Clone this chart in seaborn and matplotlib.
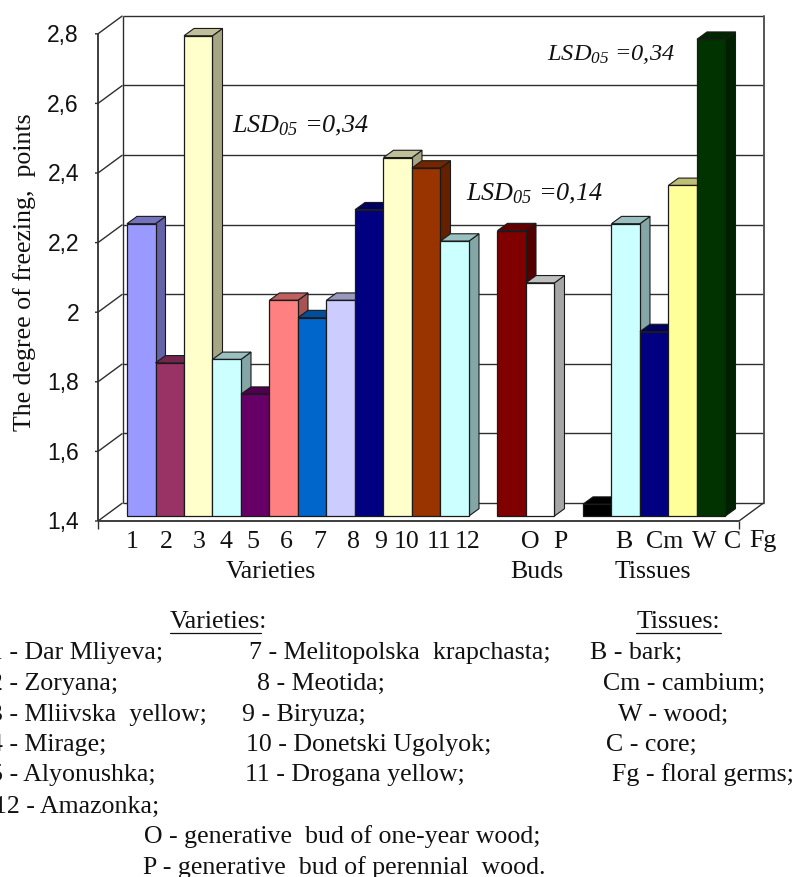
import numpy as np
import pandas as pd
import matplotlib
matplotlib.use('Agg')
import matplotlib.pyplot as plt
import matplotlib.colors as mcolors
from matplotlib.lines import Line2D
from matplotlib.patches import Polygon
from matplotlib.transforms import Affine2D, IdentityTransform
import seaborn as sns

# values
varieties = ['1', '2', '3', '4', '5', '6', '7', '8', '9', '10', '11', '12']
variety_values = [2.24, 1.84, 2.78, 1.85, 1.75, 2.02, 1.97, 2.02, 2.28, 2.43, 2.40, 2.19]
variety_colors = ['#9999FF', '#993366', '#FFFFCC', '#CCFFFF', '#660066', '#FF8080',
                  '#0066CC', '#CCCCFF', '#000080', '#FFFFCC', '#993300', '#CCFFFF']

buds = ['O', 'P']
bud_values = [2.22, 2.07]
bud_colors = ['#800000', '#FFFFFF']

tissues = ['T1', 'T2', 'T3', 'T4', 'T5']
tissue_values = [1.434, 2.24, 1.93, 2.35, 2.77]
tissue_colors = ['#000000', '#CCFFFF', '#000080', '#FFFF99', '#003300']

y_ticks = [1.4, 1.6, 1.8, 2.0, 2.2, 2.4, 2.6, 2.8]
y_tick_labels = ['1,4', '1,6', '1,8', '2', '2,2', '2,4', '2,6', '2,8']

# x labels of the picture do not sit under the bars, so they get their own spots
x_labels = ['1', '2', '3', '4', '5', '6', '7', '8', '9', '10', '11', '12',
            'O', 'P', 'B', 'Cm', 'W', 'C', 'Fg']
x_label_px = [132, 166, 199, 226, 253, 286, 320, 354, 381, 407, 439, 468,
              530, 560, 624, 665, 704, 733, 763]

WIDTH, HEIGHT = 798, 877
SERIF = 'Liberation Serif'

sns.set_theme(style='white')
plt.rcParams['font.family'] = [SERIF, 'DejaVu Serif']
plt.rcParams['mathtext.fontset'] = 'custom'
plt.rcParams['mathtext.it'] = 'Liberation Serif:italic'
plt.rcParams['mathtext.rm'] = 'Liberation Serif:italic'

fig = plt.figure(figsize=(WIDTH / 100, HEIGHT / 100), dpi=100, facecolor='white')


def px(x, y):
    return x / WIDTH, 1 - y / HEIGHT


def put(x, y, s, **kw):
    kw.setdefault('fontsize', 18.6)
    kw.setdefault('color', '#111111')
    kw.setdefault('va', 'baseline')
    fig.text(*px(x, y), s, **kw)


# axes = plane of the bar fronts
ax = fig.add_axes([105 / WIDTH, 1 - 516 / HEIGHT, 641 / WIDTH, 487.2 / HEIGHT])
ax.patch.set_alpha(0)

slots = varieties + ['gap1'] + buds + ['gap2'] + tissues
values = variety_values + bud_values + tissue_values
names = varieties + buds + tissues
colors = variety_colors + bud_colors + tissue_colors
df = pd.DataFrame({'slot': names, 'value': values})

sns.barplot(data=df, x='slot', y='value', hue='slot', order=slots, hue_order=names,
            palette=dict(zip(names, colors)), saturation=1, width=1, dodge=False,
            legend=False, edgecolor='#1a1a1a', linewidth=0.9, ax=ax)

ax.set_xlim(-1.272, 21.22)
ax.set_ylim(1.4, 2.8)
ax.set_xticks([])
ax.set_yticks([])
ax.set_xlabel('')
ax.set_ylabel('')
for s in ax.spines.values():
    s.set_visible(False)


def shift(dx, dy):
    return ax.transData + Affine2D().translate(dx, dy)


# walls: front plane and back plane are offsets from the bar plane
FRONT = shift(-7, -5)
BACK = shift(17.5, 13)
x_left, x_right = ax.get_xlim()
line_kw = dict(color='#2e2e2e', lw=1.0, clip_on=False, zorder=1, solid_capstyle='butt')

for t in y_ticks:
    front = FRONT.transform((x_left, t))
    back = BACK.transform((x_left, t))
    ax.plot([front[0] - 3, front[0], back[0]], [front[1], front[1], back[1]],
            transform=IdentityTransform(), **line_kw)
    ax.plot([x_left, x_right], [t, t], transform=BACK, **line_kw)
ax.plot([x_left, x_left], [1.4, 2.8], transform=BACK, **line_kw)
ax.plot([x_right, x_right], [1.4, 2.8], transform=BACK, color='#555555', lw=1.4,
        clip_on=False, zorder=1)

floor_kw = dict(line_kw, zorder=2)
ax.plot([x_left, x_left], [1.4, 2.8], transform=FRONT, **dict(floor_kw, lw=1.3))
ax.plot([x_left, x_right], [1.4, 1.4], transform=FRONT, **dict(floor_kw, lw=1.3))
end_front = FRONT.transform((x_right, 1.4))
end_back = BACK.transform((x_right, 1.4))
ax.plot([end_front[0], end_back[0]], [end_front[1], end_back[1]],
        transform=IdentityTransform(), **floor_kw)
for x_end in (x_left, x_right):
    p = FRONT.transform((x_end, 1.4))
    ax.plot([p[0], p[0]], [p[1], p[1] - 8], transform=IdentityTransform(), **floor_kw)

# 3d look: side and top faces grow out of the seaborn bars
DEPTH_X, DEPTH_Y = 10, 7.3
bars = sorted(ax.patches, key=lambda b: b.get_x())
for i, (bar, color) in enumerate(zip(bars, colors)):
    top = bar.get_height()
    bar.set_y(1.4)
    bar.set_height(top - 1.4)
    bar.set_clip_on(False)
    z = 3 + i * 0.1
    bar.set_zorder(z)
    x0, x1 = bar.get_x(), bar.get_x() + bar.get_width()
    (a, b), (c, d), (e, f) = ax.transData.transform([(x0, top), (x1, top), (x1, 1.4)])
    rgb = np.array(mcolors.to_rgb(color))
    side = Polygon([(c, d), (c + DEPTH_X, d + DEPTH_Y), (e + DEPTH_X, f + DEPTH_Y), (e, f)],
                   facecolor=rgb * 0.65, edgecolor='#1a1a1a', lw=0.8,
                   transform=IdentityTransform(), clip_on=False, zorder=z - 0.05)
    cap = Polygon([(a, b), (c, d), (c + DEPTH_X, d + DEPTH_Y), (a + DEPTH_X, b + DEPTH_Y)],
                  facecolor=rgb * 0.75, edgecolor='#1a1a1a', lw=0.8,
                  transform=IdentityTransform(), clip_on=False, zorder=z - 0.05)
    ax.add_patch(side)
    ax.add_patch(cap)

# y tick labels and x labels
for t, lab in zip(y_ticks, y_tick_labels):
    xp, yp = FRONT.transform((x_left, t))
    fig.text(79 / WIDTH, (yp - 2) / HEIGHT, lab, family='Liberation Sans', fontsize=16.5,
             color='#111111', ha='right', va='center')
for x, lab in zip(x_label_px, x_labels):
    put(x, 547.5, lab, ha='center')

put(271, 578, 'Varieties', ha='center')
put(537, 578, 'Buds', ha='center')
put(653, 578, 'Tissues', ha='center')
put(31, 272, 'The degree of freezing,  points', rotation=90, ha='center',
    rotation_mode='anchor')

# LSD notes
for x, y, s, size in [(232, 132, '0,34', 18.8), (466, 200, '0,14', 18.8), (547, 60, '0,34', 17.6)]:
    put(x, y, '$LSD_{05}$ =' + s, style='italic', fontsize=size, zorder=10)

# legend block under the chart
put(170, 628, 'Varieties:')
put(637, 628, 'Tissues:')
for x0, x1 in [(170, 261), (636, 721)]:
    fig.add_artist(Line2D([x0 / WIDTH, x1 / WIDTH], [1 - 632.5 / HEIGHT] * 2,
                          color='#111111', lw=0.9))

legend_left = ['1 - Dar Mliyeva;', '2 - Zoryana;', '3 - Mliivska  yellow;',
               '4 - Mirage;', '5 - Alyonushka;', '12 - Amazonka;']
legend_left_x = [-9.5, -9.5, -9.5, -9.5, -9.5, -6]
legend_mid = ['7 - Melitopolska  krapchasta;', '8 - Meotida;', '9 - Biryuza;',
              '10 - Donetski Ugolyok;', '11 - Drogana yellow;']
legend_mid_x = [249, 257, 242, 246, 245]
legend_right = ['B - bark;', 'Cm - cambium;', 'W - wood;', 'C - core;', 'Fg - floral germs;']
legend_right_x = [590, 603, 618, 606, 612]
legend_buds = ['O - generative  bud of one-year wood;', 'P - generative  bud of perennial  wood.']
legend_buds_x = [144, 143]
rows_y = [659, 690, 720.5, 751, 781.5, 813, 843, 874]

for s, x, y in zip(legend_left, legend_left_x, rows_y):
    put(x, y, s)
for s, x, y in zip(legend_mid, legend_mid_x, rows_y):
    put(x, y, s)
for s, x, y in zip(legend_right, legend_right_x, rows_y):
    put(x, y, s)
for s, x, y in zip(legend_buds, legend_buds_x, rows_y[6:]):
    put(x, y, s)

fig.savefig('out.png', dpi=100, facecolor='white')
